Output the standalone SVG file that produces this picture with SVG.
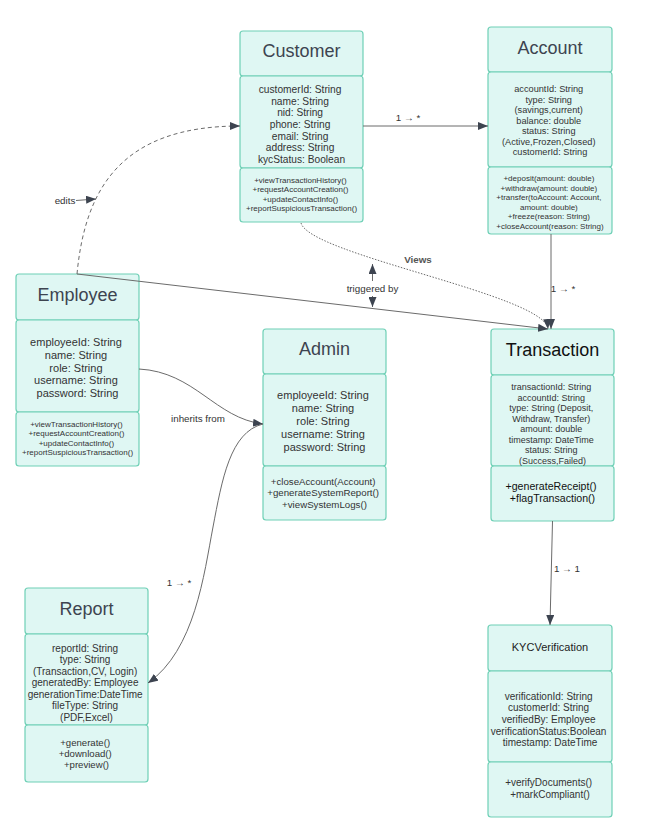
<svg xmlns="http://www.w3.org/2000/svg" width="661" height="838" viewBox="0 0 661 838">
<defs>
<marker id="arr" viewBox="0 0 10 8" refX="10" refY="4" markerWidth="10" markerHeight="8" markerUnits="userSpaceOnUse" orient="auto-start-reverse">
<path d="M0,0 L10,4 L0,8 z" fill="#3d4450"/>
</marker>
<style>
.sec{fill:#dff7f3;stroke:#6fd0b6;stroke-width:1.2}
text{font-family:"Liberation Sans",Arial,sans-serif;text-anchor:middle;dominant-baseline:central;fill:#333}
.title{font-size:18px;fill:#3d4450}
.ln{fill:none;stroke:#6b6b6b;stroke-width:1}
.lbl{font-size:9.8px;fill:#333}
</style>
</defs>
<rect width="661" height="838" fill="#fff"/>

<g id="Customer">
<rect class="sec" x="240" y="31" width="123" height="45" rx="3"/>
<rect class="sec" x="240" y="76" width="123" height="92" rx="3"/>
<rect class="sec" x="240" y="168" width="123" height="54" rx="3"/>
<text class="title" x="301.5" y="51">Customer</text>
<text style="font-size:10.2px">
<tspan x="301.5" y="89">customerId: String</tspan>
<tspan x="301.5" y="100.7">name: String</tspan>
<tspan x="301.5" y="112.3">nid: String</tspan>
<tspan x="301.5" y="124">phone: String</tspan>
<tspan x="301.5" y="135.7">email: String</tspan>
<tspan x="301.5" y="147.3">address: String</tspan>
<tspan x="301.5" y="159">kycStatus: Boolean</tspan>
</text>
<text style="font-size:8px">
<tspan x="301.5" y="180">+viewTransactionHistory()</tspan>
<tspan x="301.5" y="189.3">+requestAccountCreation()</tspan>
<tspan x="301.5" y="198.7">+updateContactInfo()</tspan>
<tspan x="301.5" y="208">+reportSuspiciousTransaction()</tspan>
</text>
</g>

<g id="Account">
<rect class="sec" x="488" y="27" width="124" height="45" rx="3"/>
<rect class="sec" x="488" y="72" width="124" height="95" rx="3"/>
<rect class="sec" x="488" y="167" width="124" height="67" rx="3"/>
<text class="title" x="550" y="48">Account</text>
<text style="font-size:9.2px">
<tspan x="550" y="89">accountId: String</tspan>
<tspan x="550" y="99.5">type: String</tspan>
<tspan x="550" y="110">(savings,current)</tspan>
<tspan x="550" y="120.5">balance: double</tspan>
<tspan x="550" y="131">status: String</tspan>
<tspan x="550" y="141.5">(Active,Frozen,Closed)</tspan>
<tspan x="550" y="152">customerId: String</tspan>
</text>
<text style="font-size:8px">
<tspan x="550" y="178.3">+deposit(amount: double)</tspan>
<tspan x="550" y="187.8">+withdraw(amount: double)</tspan>
<tspan x="550" y="197.3">+transfer(toAccount: Account,</tspan>
<tspan x="550" y="206.8">amount: double)</tspan>
<tspan x="550" y="216.3">+freeze(reason: String)</tspan>
<tspan x="550" y="225.8">+closeAccount(reason: String)</tspan>
</text>
</g>

<g id="Employee">
<rect class="sec" x="16" y="274" width="123" height="46" rx="3"/>
<rect class="sec" x="16" y="320" width="123" height="92" rx="3"/>
<rect class="sec" x="16" y="412" width="123" height="54" rx="3"/>
<text class="title" x="77.5" y="295">Employee</text>
<text style="font-size:11px">
<tspan x="77.5" y="341.7">employeeId: String</tspan>
<tspan x="77.5" y="354.6">name: String</tspan>
<tspan x="77.5" y="367.5">role: String</tspan>
<tspan x="77.5" y="380.4">username: String</tspan>
<tspan x="77.5" y="393.3">password: String</tspan>
</text>
<text style="font-size:8px">
<tspan x="77.5" y="424">+viewTransactionHistory()</tspan>
<tspan x="77.5" y="433.3">+requestAccountCreation()</tspan>
<tspan x="77.5" y="442.7">+updateContactInfo()</tspan>
<tspan x="77.5" y="452">+reportSuspiciousTransaction()</tspan>
</text>
</g>

<g id="Admin">
<rect class="sec" x="263" y="329" width="123" height="45" rx="3"/>
<rect class="sec" x="263" y="374" width="123" height="92" rx="3"/>
<rect class="sec" x="263" y="466" width="123" height="54" rx="3"/>
<text class="title" x="324.5" y="349">Admin</text>
<text style="font-size:11px">
<tspan x="324.5" y="395.3">employeeId: String</tspan>
<tspan x="324.5" y="408.2">name: String</tspan>
<tspan x="324.5" y="421.1">role: String</tspan>
<tspan x="324.5" y="434">username: String</tspan>
<tspan x="324.5" y="446.9">password: String</tspan>
</text>
<text style="font-size:9.7px">
<tspan x="324.5" y="481">+closeAccount(Account)</tspan>
<tspan x="324.5" y="492.3">+generateSystemReport()</tspan>
<tspan x="324.5" y="503.6">+viewSystemLogs()</tspan>
</text>
</g>

<g id="Transaction">
<rect class="sec" x="491" y="329" width="123" height="46" rx="3"/>
<rect class="sec" x="491" y="375" width="123" height="91" rx="3"/>
<rect class="sec" x="491" y="466" width="123" height="55" rx="3"/>
<text class="title" x="552.5" y="350" style="fill:#111">Transaction</text>
<text style="font-size:9px">
<tspan x="552.5" y="387">transactionId: String</tspan>
<tspan x="552.5" y="397.5">accountId: String</tspan>
<tspan x="552.5" y="408">type: String (Deposit,</tspan>
<tspan x="552.5" y="418.5">Withdraw, Transfer)</tspan>
<tspan x="552.5" y="429">amount: double</tspan>
<tspan x="552.5" y="439.5">timestamp: DateTime</tspan>
<tspan x="552.5" y="450">status: String</tspan>
<tspan x="552.5" y="460.5">(Success,Failed)</tspan>
</text>
<text style="font-size:10.6px;fill:#111">
<tspan x="552.5" y="485.7">+generateReceipt()</tspan>
<tspan x="552.5" y="498.3">+flagTransaction()</tspan>
</text>
</g>

<g id="Report">
<rect class="sec" x="25" y="588" width="123" height="46" rx="3"/>
<rect class="sec" x="25" y="634" width="123" height="91" rx="3"/>
<rect class="sec" x="25" y="725" width="123" height="57" rx="3"/>
<text class="title" x="86.5" y="609">Report</text>
<text style="font-size:10px">
<tspan x="86.5" y="647.7">reportId: String</tspan>
<tspan x="86.5" y="659.2">type: String</tspan>
<tspan x="86.5" y="670.7">(Transaction,CV, Login)</tspan>
<tspan x="86.5" y="682.2">generatedBy: Employee</tspan>
<tspan x="86.5" y="693.7">generationTime:DateTime</tspan>
<tspan x="86.5" y="705.2">fileType: String</tspan>
<tspan x="86.5" y="716.7">(PDF,Excel)</tspan>
</text>
<text style="font-size:9.6px">
<tspan x="86.5" y="741.7">+generate()</tspan>
<tspan x="86.5" y="752.7">+download()</tspan>
<tspan x="86.5" y="763.7">+preview()</tspan>
</text>
</g>

<g id="KYCVerification">
<rect class="sec" x="488" y="625" width="124" height="46" rx="3"/>
<rect class="sec" x="488" y="671" width="124" height="91" rx="3"/>
<rect class="sec" x="488" y="762" width="124" height="55" rx="3"/>
<text x="550" y="646.7" style="font-size:11px;fill:#222">KYCVerification</text>
<text style="font-size:10px">
<tspan x="550" y="695.7">verificationId: String</tspan>
<tspan x="550" y="707.3">customerId: String</tspan>
<tspan x="550" y="718.9">verifiedBy: Employee</tspan>
<tspan x="550" y="730.5">verificationStatus:Boolean</tspan>
<tspan x="550" y="742.1">timestamp: DateTime</tspan>
</text>
<text style="font-size:10px">
<tspan x="550" y="781.7">+verifyDocuments()</tspan>
<tspan x="550" y="794">+markCompliant()</tspan>
</text>
</g>

<g id="connectors">
<path class="ln" d="M363,126 L488,126" marker-end="url(#arr)"/>
<text class="lbl" x="408" y="117">1 → *</text>

<path class="ln" d="M77,274 C85,190 120,126 240,126" stroke-dasharray="4,3" marker-end="url(#arr)"/>
<text class="lbl" x="65" y="200">edits</text>
<path class="ln" d="M76,200.5 L96,199" marker-end="url(#arr)"/>

<path class="ln" d="M77,274 L548,329" marker-end="url(#arr)"/>

<path class="ln" d="M301,223 C310,255 545,295 548,329" stroke-dasharray="1.5,1.5" marker-end="url(#arr)"/>
<text class="lbl" x="418" y="259" style="font-weight:bold;fill:#555">Views</text>

<path class="ln" d="M372.5,264 L372.5,307" marker-start="url(#arr)" marker-end="url(#arr)"/>
<rect x="343" y="281" width="59" height="15" fill="#fff"/>
<text class="lbl" x="372.5" y="288">triggered by</text>

<path class="ln" d="M551,234 L551,329" marker-end="url(#arr)"/>
<text class="lbl" x="563" y="288">1 → *</text>

<path class="ln" d="M552.5,521 L550,625" marker-end="url(#arr)"/>
<text class="lbl" x="567" y="568">1 → 1</text>

<path class="ln" d="M139,369 C195,372 215,418 263,424" marker-end="url(#arr)"/>
<text class="lbl" x="198" y="418">inherits from</text>

<path class="ln" d="M263,424 C230,432 222,480 213,527 S195,650 148,683" marker-end="url(#arr)"/>
<text class="lbl" x="179" y="582">1 → *</text>
</g>
</svg>
